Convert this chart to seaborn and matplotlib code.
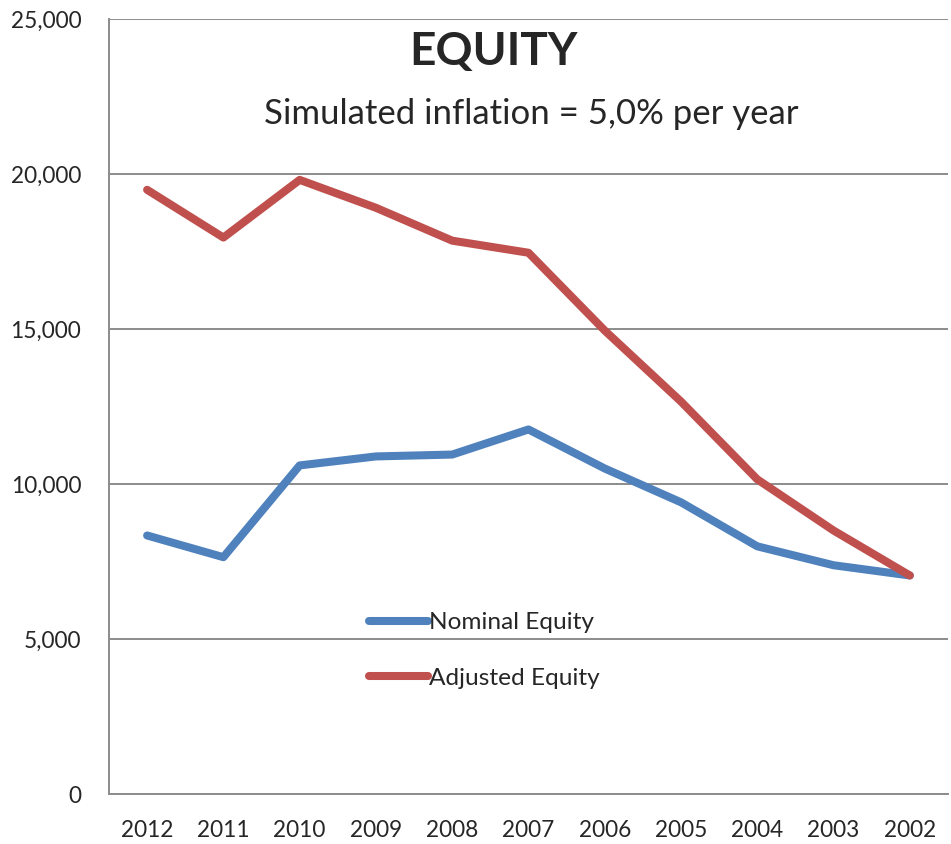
import numpy as np
import pandas as pd
import seaborn as sns
import matplotlib.pyplot as plt

years = ['2012', '2011', '2010', '2009', '2008', '2007', '2006', '2005', '2004', '2003', '2002']
nominal = [8340, 7640, 10600, 10890, 10950, 11760, 10500, 9410, 7990, 7380, 7050]
adjusted = [19490, 17950, 19810, 18910, 17850, 17460, 14950, 12660, 10150, 8500, 7050]
series_names = ['Nominal Equity', 'Adjusted Equity']
colors = ['#4F81BD', '#C0504D']

df = pd.DataFrame({
    'year': years * 2,
    'value': nominal + adjusted,
    'series': [series_names[0]] * len(years) + [series_names[1]] * len(years),
})

sns.set_style('white')
plt.rcParams['font.family'] = ['Lato', 'DejaVu Sans']

fig = plt.figure(figsize=(9.51, 8.44), dpi=100)
ax = fig.add_axes([0.1146, 0.0592, 0.8822, 0.9183])

sns.lineplot(data=df, x='year', y='value', hue='series', palette=colors,
             linewidth=5.8, sort=False, ax=ax, legend=True)
for ln in ax.get_lines():
    ln.set_solid_capstyle('round')
    ln.set_solid_joinstyle('round')

grid_c = '#8C8C8C'
ax.set_xlim(-0.5, len(years) - 0.5)
ax.set_ylim(0, 25000)
ax.set_yticks(np.arange(0, 25001, 5000))
ax.set_yticklabels(['{:,}'.format(v) for v in range(0, 25001, 5000)], fontsize=16.3)
ax.yaxis.grid(True, color=grid_c, linewidth=1.4)
ax.set_axisbelow(True)

ax.set_xticks(range(len(years)))
ax.set_xticklabels(years, fontsize=16.3)
ax.tick_params(axis='x', length=0, pad=19)
ax.set_xticks(np.arange(-0.5, len(years), 1), minor=True)
ax.tick_params(axis='x', which='minor', length=8, color=grid_c, width=1.4)
ax.tick_params(axis='y', length=8, color=grid_c, width=1.4, pad=12)

for side in ['top', 'right']:
    ax.spines[side].set_visible(False)
for side in ['left', 'bottom']:
    ax.spines[side].set_color(grid_c)
    ax.spines[side].set_linewidth(1.4)
ax.set_xlabel('')
ax.set_ylabel('')

ax.text(0.458, 0.958, 'EQUITY', transform=ax.transAxes, ha='center', va='center',
        fontsize=33, fontweight='bold')
ax.text(0.503, 0.877, 'Simulated inflation = 5,0% per year', transform=ax.transAxes,
        ha='center', va='center', fontsize=25)

leg = ax.legend(loc='upper left', bbox_to_anchor=(0.284, 0.263), frameon=False,
                fontsize=17.6, handlelength=2.4, handletextpad=0.05, labelspacing=1.4)
for h in leg.get_lines():
    h.set_linewidth(5.8)
    h.set_solid_capstyle('round')

fig.savefig('out.png', dpi=100)
